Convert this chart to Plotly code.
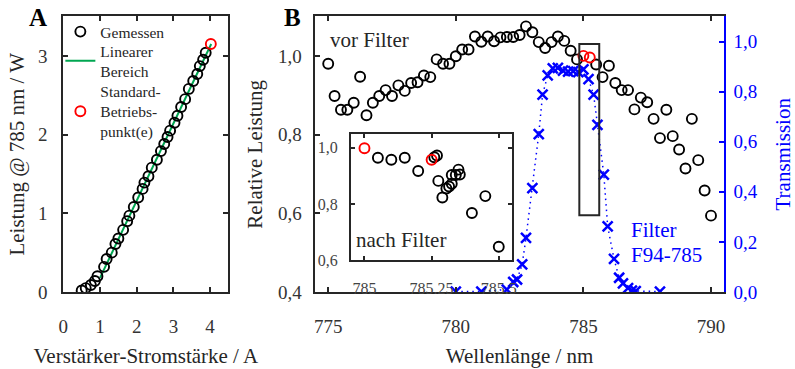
import plotly.graph_objects as go

# ---------------- Panel A data ----------------
current_A = [0.50, 0.61, 0.75, 0.86, 0.93, 1.11, 1.18, 1.32, 1.42, 1.50, 1.63, 1.74,
             1.80, 1.92, 2.04, 2.16, 2.21, 2.32, 2.41, 2.55, 2.66, 2.75, 2.84, 2.91,
             3.03, 3.11, 3.21, 3.32, 3.42, 3.54, 3.65, 3.72, 3.81, 3.88]
power_A = [0.02, 0.05, 0.09, 0.14, 0.20, 0.32, 0.42, 0.50, 0.61, 0.68, 0.79, 0.90,
           0.97, 1.08, 1.20, 1.31, 1.39, 1.47, 1.58, 1.68, 1.79, 1.88, 1.97, 2.05,
           2.15, 2.24, 2.35, 2.45, 2.58, 2.68, 2.77, 2.87, 2.95, 3.04]
op_current_A = [4.02]
op_power_A = [3.15]
lin_current = [1.0, 4.03]
lin_power = [0.18, 3.15]

# ---------------- Panel B data ----------------
wl_before = [775.0, 775.25, 775.5, 775.75, 776.0, 776.25, 776.5, 776.75, 777.0, 777.25,
             777.5, 777.75, 778.0, 778.25, 778.5, 778.75, 779.0, 779.25, 779.5, 779.75,
             780.0, 780.25, 780.5, 780.75, 781.0, 781.25, 781.5, 781.75, 782.0, 782.25,
             782.5, 782.75, 783.0, 783.25, 783.5, 783.75, 784.0, 784.25, 784.5, 784.75,
             785.5, 785.75, 786.0, 786.25, 786.5, 786.75, 787.0, 787.25, 787.5, 787.75,
             788.0, 788.25, 788.5, 788.75, 789.0, 789.25, 789.5, 789.75, 790.0]
rel_before = [0.980, 0.898, 0.863, 0.863, 0.881, 0.947, 0.849, 0.881, 0.898, 0.913,
              0.898, 0.925, 0.911, 0.931, 0.933, 0.950, 0.946, 0.991, 0.980, 0.980,
              0.999, 1.016, 1.016, 1.049, 1.036, 1.049, 1.037, 1.047, 1.048, 1.048,
              1.053, 1.075, 1.060, 1.035, 1.020, 1.035, 1.049, 1.038, 1.013, 0.991,
              0.978, 0.946, 0.975, 0.931, 0.913, 0.913, 0.864, 0.894, 0.882, 0.840,
              0.791, 0.863, 0.796, 0.762, 0.714, 0.840, 0.735, 0.658, 0.594]
wl_before_op = [785.0, 785.25]
rel_before_op = [1.000, 0.996]

wl_trans = [780.0, 781.0, 782.0, 782.25, 782.4, 782.6, 782.75, 783.0, 783.25, 783.4,
            783.6, 783.8, 784.0, 784.2, 784.4, 784.6, 784.8, 785.0, 785.2, 785.4,
            785.55, 785.8, 785.95, 786.2, 786.4, 786.55, 786.75, 786.9, 787.05, 788.0]
trans = [0.002, 0.002, 0.010, 0.040, 0.050, 0.110, 0.216, 0.415, 0.630, 0.788,
         0.865, 0.893, 0.895, 0.884, 0.880, 0.882, 0.878, 0.889, 0.850, 0.788,
         0.667, 0.469, 0.262, 0.132, 0.057, 0.035, 0.016, 0.006, 0.004, 0.002]

wl_after = [785.05, 785.10, 785.15, 785.20, 785.26, 785.27, 785.275, 785.29, 785.305,
            785.315, 785.325, 785.325, 785.34, 785.35, 785.355, 785.40, 785.45, 785.50]
rel_after = [0.964, 0.957, 0.964, 0.917, 0.966, 0.972, 0.882, 0.823, 0.855,
             0.862, 0.872, 0.903, 0.903, 0.922, 0.905, 0.768, 0.828, 0.648]
wl_after_op = [785.0, 785.25]
rel_after_op = [0.998, 0.957]

inset_tickvals = [785, 785.25, 785.5]
inset_ticktext = ["785", "785.25", "785.5"]

zoom_box_x = [784.84, 785.62]
zoom_box_y = [0.595, 1.03]

FONT = "Liberation Serif"
INK = "#262626"
BLUE = "#0000ff"
RED = "#ff0000"
GREEN = "#00a651"

fig = go.Figure()

# Panel A
fig.add_trace(go.Scatter(x=lin_current, y=lin_power, mode="lines",
                         line=dict(color=GREEN, width=2), name="Linearer<br>Bereich",
                         legend="legend2", xaxis="x", yaxis="y"))
fig.add_trace(go.Scatter(x=current_A, y=power_A, mode="markers",
                         marker=dict(symbol="circle-open", size=10, color="black",
                                     line=dict(color="black", width=1.9)),
                         name="Gemessen", legend="legend", xaxis="x", yaxis="y"))
fig.add_trace(go.Scatter(x=op_current_A, y=op_power_A, mode="markers",
                         marker=dict(symbol="circle-open", size=10, color=RED,
                                     line=dict(color=RED, width=1.9)),
                         name="Standard-<br>Betriebs-<br>punkt(e)", legend="legend3",
                         xaxis="x", yaxis="y"))

# Panel B main
fig.add_trace(go.Scatter(x=wl_trans, y=trans, mode="lines+markers",
                         line=dict(color=BLUE, width=1.5, dash="1.5px,4px"),
                         marker=dict(symbol="x-thin", size=10,
                                     line=dict(color=BLUE, width=2.5)),
                         showlegend=False, xaxis="x2", yaxis="y3"))
fig.add_trace(go.Scatter(x=wl_before, y=rel_before, mode="markers",
                         marker=dict(symbol="circle-open", size=10, color="black",
                                     line=dict(color="black", width=1.9)),
                         showlegend=False, xaxis="x2", yaxis="y2"))
fig.add_trace(go.Scatter(x=wl_before_op, y=rel_before_op, mode="markers",
                         marker=dict(symbol="circle-open", size=10, color=RED,
                                     line=dict(color=RED, width=1.9)),
                         showlegend=False, xaxis="x2", yaxis="y2"))

# Inset
fig.add_trace(go.Scatter(x=wl_after, y=rel_after, mode="markers",
                         marker=dict(symbol="circle-open", size=10, color="black",
                                     line=dict(color="black", width=1.9)),
                         showlegend=False, xaxis="x4", yaxis="y4"))
fig.add_trace(go.Scatter(x=wl_after_op, y=rel_after_op, mode="markers",
                         marker=dict(symbol="circle-open", size=10, color=RED,
                                     line=dict(color=RED, width=1.9)),
                         showlegend=False, xaxis="x4", yaxis="y4"))

W, H = 795, 369
def px(x):
    return x / W
def py(y):
    return 1 - y / H

ax_common = dict(showgrid=False, zeroline=False, showline=True, linecolor=INK,
                 linewidth=2, ticks="inside", ticklen=5, tickwidth=1.5, tickcolor=INK,
                 tickfont=dict(family=FONT, size=19, color="#333333"))

def leg(ycenter):
    return dict(x=px(56), y=py(ycenter), xanchor="left", yanchor="middle",
                bgcolor="rgba(0,0,0,0)", tracegroupgap=0, borderwidth=0,
                font=dict(family=FONT, size=15.5, color=INK))

fig.update_layout(
    width=W, height=H, margin=dict(l=0, r=0, t=0, b=0),
    paper_bgcolor="white", plot_bgcolor="white",
    separators=",.",
    font=dict(family=FONT, color=INK),
    xaxis=dict(**ax_common, domain=[px(59), px(226)], range=[0, 4.5], anchor="y",
               mirror="ticks", tickvals=[0, 1, 2, 3, 4], ticklabelstandoff=16,
               title=dict(text="Verstärker-Stromstärke / A",
                          font=dict(family=FONT, size=21, color=INK), standoff=12)),
    yaxis=dict(**ax_common, domain=[py(301), py(17)], range=[0, 3.5], anchor="x",
               mirror="ticks", tickvals=[0, 1, 2, 3], ticklabelstandoff=10,
               title=dict(text="Leistung @ 785 nm / W",
                          font=dict(family=FONT, size=21, color=INK), standoff=8)),
    xaxis2=dict(**ax_common, domain=[px(314), px(727)], range=[774.5, 790.5],
                anchor="y2", mirror="ticks", tickvals=[775, 780, 785, 790],
                ticklabelstandoff=16,
                title=dict(text="Wellenlänge / nm",
                           font=dict(family=FONT, size=21, color=INK), standoff=12)),
    yaxis2=dict(**ax_common, domain=[py(301), py(17)], range=[0.4, 1.1], anchor="x2",
                tickvals=[0.4, 0.6, 0.8, 1.0], tickformat=".1f", ticklabelstandoff=8,
                title=dict(text="Relative Leistung",
                           font=dict(family=FONT, size=21, color=INK), standoff=10)),
    yaxis3=dict(showgrid=False, zeroline=False, showline=True, linecolor=BLUE,
                linewidth=2, ticks="inside", ticklen=5, tickwidth=1.5, tickcolor=BLUE,
                tickfont=dict(family=FONT, size=19, color=BLUE),
                overlaying="y2", side="right", anchor="x2", range=[0, 1.1],
                tickvals=[0, 0.2, 0.4, 0.6, 0.8, 1.0], tickformat=".1f",
                ticklabelstandoff=4,
                title=dict(text="Transmission",
                           font=dict(family=FONT, size=21, color=BLUE), standoff=20)),
    xaxis4=dict(showgrid=False, zeroline=False, showline=True, linecolor=INK,
                linewidth=2, ticks="inside", ticklen=4, tickwidth=1.5, tickcolor=INK,
                tickfont=dict(family=FONT, size=16, color="#444444"),
                domain=[px(350), px(513)], range=[784.95, 785.55], anchor="y4",
                mirror="ticks", tickvals=inset_tickvals, ticktext=inset_ticktext,
                ticklabelstandoff=12),
    yaxis4=dict(showgrid=False, zeroline=False, showline=True, linecolor=INK,
                linewidth=2, ticks="inside", ticklen=4, tickwidth=1.5, tickcolor=INK,
                tickfont=dict(family=FONT, size=16, color="#444444"),
                domain=[py(268.3), py(137.7)], range=[0.6, 1.05], anchor="x4",
                mirror="ticks", tickvals=[0.6, 0.8, 1.0], tickformat=".1f",
                ticklabelstandoff=8),
    legend=leg(33),
    legend2=leg(63),
    legend3=leg(115),
    showlegend=True,
)

fig.add_shape(type="rect", xref="x2", yref="y2",
              x0=zoom_box_x[0], x1=zoom_box_x[1], y0=zoom_box_y[0], y1=zoom_box_y[1],
              line=dict(color=INK, width=2))

annos = [
    dict(text="<b>A</b>", x=px(33), y=py(18), size=25, color="black"),
    dict(text="<b>B</b>", x=px(291), y=py(18), size=25, color="black"),
]
for a in annos:
    fig.add_annotation(x=a["x"], y=a["y"], xref="paper", yref="paper", text=a["text"],
                       showarrow=False, xanchor="center", yanchor="middle",
                       font=dict(family=FONT, size=a["size"], color=a["color"]))

fig.add_annotation(x=px(327), y=py(41), xref="paper", yref="paper", text="vor Filter",
                   showarrow=False, xanchor="left", yanchor="middle",
                   font=dict(family=FONT, size=21, color=INK))
fig.add_annotation(x=px(353), y=py(247), xref="paper", yref="paper", text="nach Filter",
                   showarrow=False, xanchor="left", yanchor="middle",
                   font=dict(family=FONT, size=21, color=INK))
fig.add_annotation(x=px(631), y=py(237), xref="paper", yref="paper", text="Filter",
                   showarrow=False, xanchor="left", yanchor="middle",
                   font=dict(family=FONT, size=21, color=BLUE))
fig.add_annotation(x=px(631), y=py(263), xref="paper", yref="paper", text="F94-785",
                   showarrow=False, xanchor="left", yanchor="middle",
                   font=dict(family=FONT, size=21, color=BLUE))

fig.write_html("out.html")
